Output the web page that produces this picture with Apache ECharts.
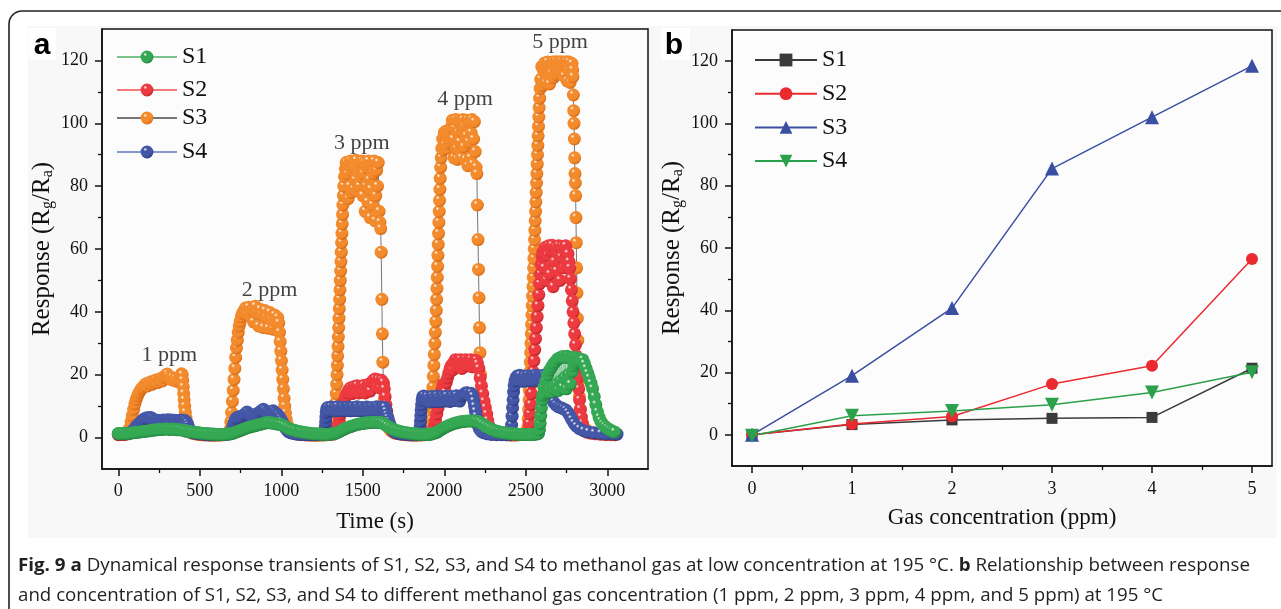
<!DOCTYPE html>
<html><head><meta charset="utf-8">
<script src="https://cdn.jsdelivr.net/npm/echarts@6/dist/echarts.min.js"></script>
<style>html,body{margin:0;padding:0;background:#fff}#c{width:1281px;height:609px}</style>
</head><body><div id="c"></div>
<script>
// ---------------- DATA ----------------
const seriesNames = ['S1','S2','S3','S4'];
const timeTicks = [0,500,1000,1500,2000,2500,3000];
const timeMinor = [250,750,1250,1750,2250,2750];
const respTicks = [0,20,40,60,80,100,120];
const respMinor = [10,30,50,70,90,110];
const concTicks = [0,1,2,3,4,5];
const concMinor = [0.5,1.5,2.5,3.5,4.5];

// panel a: [time (s), response]
const S1_dyn = [[0,1.3],[15,1.2],[30,1.3],[45,1.2],[60,1.3],[75,1.4],[90,1.5],[105,1.6],[120,1.7],[135,1.8],[150,1.9],[165,2.0],[180,2.1],[195,2.2],[210,2.3],[225,2.4],[240,2.5],[255,2.6],[270,2.6],[285,2.7],[300,2.7],[315,2.6],[330,2.7],[345,2.6],[360,2.5],[375,2.5],[390,2.4],[405,2.2],[420,2.0],[435,1.9],[450,1.8],[465,1.7],[480,1.6],[495,1.5],[510,1.4],[525,1.3],[540,1.3],[555,1.2],[570,1.1],[585,1.1],[600,1.0],[615,1.0],[630,1.0],[645,1.0],[660,1.1],[675,1.1],[690,1.2],
[705,1.4],[720,1.7],[735,2.0],[750,2.3],[765,2.6],[780,2.9],[795,3.2],[810,3.4],[825,3.6],[840,3.8],[855,4.0],[870,4.2],[885,4.4],[900,4.6],[915,4.8],[930,4.7],[945,4.6],[960,4.5],[975,4.3],[990,4.2],[1005,4.0],[1020,3.6],[1035,3.2],[1050,2.8],[1065,2.5],[1080,2.3],[1095,2.1],[1110,1.9],[1125,1.8],[1140,1.6],[1155,1.5],[1170,1.4],[1185,1.3],[1200,1.2],[1215,1.2],[1230,1.1],[1245,1.1],[1260,1.0],[1275,1.0],[1290,1.0],[1305,1.1],[1320,1.2],[1335,1.4],
[1350,1.7],[1365,2.1],[1380,2.5],[1395,2.9],[1410,3.2],[1425,3.5],[1440,3.8],[1455,4.0],[1470,4.2],[1485,4.4],[1500,4.5],[1515,4.6],[1530,4.7],[1545,4.8],[1560,4.8],[1575,4.9],[1590,4.8],[1605,4.8],[1620,4.6],[1635,4.2],[1650,3.7],[1665,3.2],[1680,2.8],[1695,2.5],[1710,2.2],[1725,2.0],[1740,1.8],[1755,1.6],[1770,1.5],[1785,1.4],[1800,1.3],[1815,1.2],[1830,1.1],[1845,1.1],[1860,1.0],[1875,1.0],[1890,1.0],[1905,1.0],[1920,1.1],[1935,1.3],
[1950,1.6],[1965,2.0],[1980,2.5],[1995,3.0],[2010,3.4],[2025,3.8],[2040,4.1],[2055,4.4],[2070,4.6],[2085,4.8],[2100,5.0],[2115,5.1],[2130,5.2],[2145,5.3],[2160,5.3],[2175,5.2],[2190,5.3],[2205,5.1],[2220,4.8],[2235,4.3],[2250,3.8],[2265,3.3],[2280,2.9],[2295,2.5],[2310,2.2],[2325,2.0],[2340,1.8],[2355,1.6],[2370,1.5],[2385,1.4],[2400,1.3],[2415,1.2],[2430,1.1],[2445,1.1],[2460,1.0],[2475,1.0],[2490,1.0],[2505,1.0],[2520,1.0],[2535,1.0],[2550,1.0],[2565,1.1],[2578,1.3],
[2584,2.5],[2588,4.5],[2592,7],[2596,9.5],[2600,12],[2605,13.5],[2611,16],[2617,14],[2623,18],[2629,14.5],[2635,20],[2641,15],[2647,21.5],[2653,14.5],[2659,22.5],[2665,16],[2671,23.5],[2677,15.5],[2683,24.2],[2689,17],[2695,25],[2701,15],[2707,25.3],[2713,18],[2719,25.6],[2725,16],[2731,25.8],[2737,19],[2743,25.5],[2749,15.5],[2755,25.9],[2761,20],[2767,25.6],[2773,17],[2779,25.4],[2785,21],[2791,25.2],[2797,23],[2803,25.5],[2809,24],[2815,25.3],[2821,24.6],[2827,25],[2833,24.5],[2840,24.8],
[2850,24.8],[2860,23.5],[2870,22],[2880,20.5],[2890,19],[2900,17.3],[2910,15.6],[2920,13],[2930,10.5],[2940,8.2],[2950,6.4],[2960,5.2],[2972,4.3],[2985,3.6],[3000,3],[3015,2.5],[3030,2.1],[3045,1.8]];

const S2_dyn = [[0,0.9],[20,1.0],[40,1.0],[60,1.2],[80,1.6],[100,2.0],[130,2.4],[160,2.7],[190,2.9],[220,3.1],[250,3.2],[280,3.4],[310,3.5],[340,3.4],[370,3.3],[400,3.2],[420,2.6],[435,2.0],[450,1.6],[475,1.3],[500,1.1],[530,1.0],[560,0.9],[590,0.9],[620,0.9],[650,1.0],[680,1.2],
[700,2.2],[715,3.2],[730,4],[750,4.6],[780,5],[810,5.3],[840,5.5],[870,5.6],[900,5.8],[930,5.7],[960,5.6],[990,5.4],[1010,4.6],[1025,3.6],[1040,2.6],[1055,2.0],[1070,1.6],[1090,1.3],[1110,1.1],
[1140,1.0],[1170,0.9],[1200,0.9],[1230,0.9],[1260,0.9],[1290,1.0],[1320,1.1],
[1335,1.8],[1345,3.5],[1355,5.5],[1365,7.5],[1375,9.5],[1385,11.5],[1395,13],[1405,14.3],[1415,15.2],[1425,15.8],[1435,14],[1445,16.2],[1455,14.5],[1465,16.5],[1475,14.2],[1485,16],[1495,14.6],[1505,16.6],[1515,14.2],[1525,16.2],[1535,17],[1545,14.8],[1555,17.6],[1565,18.2],[1575,18.6],[1585,16.2],[1595,18.4],[1605,15.8],[1615,18.2],[1625,17.5],[1632,15.5],[1637,13],[1642,10.5],[1647,8.4],[1652,6.5],[1658,5],[1665,3.8],[1673,2.8],[1683,2.1],[1695,1.7],[1710,1.4],
[1730,1.2],[1760,1.0],[1790,0.9],[1820,0.9],[1850,0.9],[1880,1.0],[1910,1.1],
[1930,1.8],[1938,3.5],[1946,5.5],[1954,7.5],[1962,9.5],[1970,11.5],[1978,13.5],[1986,15.5],[1994,17],[2000,16],[2006,14.5],[2012,17.5],[2020,19],[2028,20.5],[2036,22],[2044,23],[2052,21.5],[2060,24],[2068,24.8],[2076,22.5],[2084,24.6],[2092,23.2],[2100,24.8],[2108,22],[2116,24.2],[2124,23.5],[2132,24.8],[2140,22.8],[2148,24.5],[2156,23],[2164,24.8],[2172,22.5],[2180,24.2],[2188,23.8],[2196,24.5],[2204,23.5],
[2212,22],[2220,19],[2228,16.5],[2236,14],[2244,11.5],[2252,9.5],[2260,7.5],[2266,5.5],[2272,4],[2280,2.8],[2290,2],[2300,1.6],
[2320,1.3],[2350,1.1],[2380,1.0],[2410,0.9],[2440,0.9],[2470,1.0],[2500,1.1],
[2515,2],[2520,4.5],[2525,7.5],[2530,10.5],[2535,14],[2540,17.5],[2545,21],[2550,24.5],[2555,28],[2560,31.5],[2565,35],[2570,38.5],[2575,42],[2580,45.5],[2585,49],[2590,52],[2595,55],[2600,57.5],
[2605,59],[2612,54],[2619,60.5],[2626,50],[2633,58],[2640,61],[2647,52],[2654,59.5],[2661,61.2],[2668,48],[2675,56],[2682,60.5],[2689,53],[2696,59],[2703,61],[2710,50],[2717,57.5],[2724,60.8],[2731,54],[2738,59.5],[2745,61],[2752,55],[2759,58.5],[2765,56],
[2770,54],[2775,50.5],[2780,47],[2785,43.5],[2790,40],[2795,36.5],[2800,33],[2805,29.5],[2810,26],[2815,22.5],[2820,19],[2825,15.5],[2830,12],[2835,9],[2840,6.5],[2846,4.5],[2853,3],[2862,2.2],[2875,1.7],
[2900,1.4],[2930,1.2],[2960,1.1],[2990,1.0],[3020,1.0],[3045,0.9]];

const S3_dyn = [[0,1.0],[15,1.1],[30,1.0],[45,1.2],[60,1.5],
[70,3],[78,5],[86,7],[94,9],[102,10.8],[110,12.2],[118,13.3],[126,14.2],[134,14.9],[142,15.5],[150,16],
[160,16.6],[170,17.1],[180,16.4],[190,17.4],[200,17.8],[210,17],[220,17.9],[230,18.3],[240,17.5],[250,18.4],[260,18.8],[270,18],[280,19.2],[290,19.8],[300,20.2],[310,19.3],[320,18.6],[330,19.1],[340,18.2],[350,18.7],[360,17.9],[370,18.4],[380,19.2],[388,20.3],
[392,20],[395,18.2],[398,16.1],[401,14],[404,12],[407,10],[411,8],[415,6.2],[420,4.6],[426,3.3],[433,2.4],[442,1.8],
[455,1.4],[470,1.2],[490,1.0],[510,0.9],[530,0.8],[550,0.8],[570,0.7],[590,0.7],[610,0.8],[630,0.8],[650,0.9],[670,1.2],
[685,2.5],[690,5],[695,8],[700,11.5],[705,15],[710,18.5],[715,22],[720,25.5],[725,28.5],[730,31],[736,33.5],[742,35.5],[748,37],[755,38.5],[762,39.5],
[770,40.2],[780,41.2],[790,39.4],[800,41.5],[810,38.6],[820,40.6],[830,36.8],[840,41.8],[850,39.6],[860,35.5],[870,40.8],[880,39.2],[890,35],[900,40.4],[910,38.3],[920,34.8],[930,39.8],[940,37.5],[950,34.5],[960,39],[970,36.2],[978,38.2],
[985,36.5],[989,33.5],[993,30.5],[997,27.5],[1001,24.5],[1005,21.5],[1009,18.5],[1013,15.5],[1017,12.5],[1021,10],[1025,7.8],[1030,5.8],[1036,4.2],[1043,3],[1052,2.2],
[1065,1.6],[1080,1.3],[1100,1.1],[1120,1.0],[1140,0.9],[1160,0.8],[1180,0.8],[1200,0.7],[1220,0.7],[1240,0.8],[1260,0.8],[1280,0.9],[1300,1.0],[1315,1.3],
[1325,2.5],[1328,5],[1331,8],[1334,11],[1337,14],[1340,17],[1342,20],[1344,23],[1346,26],[1348,29],[1350,32],[1352,35],[1354,38],[1356,41],[1358,44],[1360,47],[1362,50],[1364,53],[1366,56],[1368,59],[1370,62],[1372,65],[1374,68],[1376,71],[1378,74],[1381,77],[1384,80],[1388,83],[1393,85.5],[1398,87.5],
[1405,84],[1410,76],[1415,86.5],[1420,80],[1425,88],[1430,78],[1435,85],[1440,87.5],[1445,79],[1450,86],[1455,82],[1460,88.2],[1465,78.5],[1470,84.5],[1475,87],[1480,80],[1485,86.5],[1490,83],[1495,88],[1500,77],[1505,84],[1510,87.5],[1515,72],[1520,80],[1525,86],[1530,75],[1535,88],[1540,82],[1545,70],[1550,79],[1555,86.5],[1560,74],[1565,84],[1570,88],[1575,69],[1580,77],[1585,85],[1590,80],[1595,87.5],[1600,72],[1605,68.5],
[1610,66.5],[1613,59],[1617,44],[1620,33],[1623,24],[1627,17],[1631,12],[1636,8.5],[1642,6],[1650,4.2],[1660,3],[1672,2.2],
[1685,1.7],[1700,1.4],[1720,1.2],[1740,1.0],[1760,0.9],[1780,0.8],[1800,0.8],[1820,0.7],[1840,0.8],[1860,0.8],[1880,0.9],[1900,1.1],[1912,1.5],
[1918,2.5],[1921,5.5],[1924,9],[1927,12.5],[1930,16],[1933,19.5],[1936,23],[1939,26.5],[1942,30],[1945,33.5],[1948,37],[1951,40.5],[1953,44],[1955,47.5],[1957,51],[1959,54.5],[1961,58],[1963,61.5],[1965,65],[1967,68.5],[1969,72],[1971,75.5],[1973,79],[1975,82.5],[1978,86],[1981,89],[1985,92],
[1990,95],[1995,91.5],[2000,97],[2005,93],[2010,97.5],[2015,92],[2020,96],[2025,97.5],[2030,93.5],[2035,97],[2040,94],[2045,99],[2050,101],[2055,95],[2060,89],[2065,98.5],[2070,101.2],[2075,92],[2080,88.5],[2085,97],[2090,101],[2095,94],[2100,100.5],[2105,89],[2110,97.5],[2115,101.2],[2120,92.5],[2125,99],[2130,88.5],[2135,96],[2140,101],[2145,86.5],[2150,94],[2155,100.5],[2160,89],[2165,97],[2170,101.2],[2175,87],[2180,95],[2185,100.5],[2190,91],[2195,86],
[2200,84],[2203,74],[2207,63],[2210,53.5],[2213,44.5],[2216,35],[2219,27],[2223,20],[2227,14.5],[2232,10],[2238,7],[2245,5],[2254,3.5],[2265,2.5],
[2280,1.9],[2300,1.5],[2320,1.3],[2340,1.1],[2360,1.0],[2380,0.9],[2400,0.8],[2420,0.8],[2440,0.8],[2460,0.9],[2480,1.0],[2495,1.3],[2505,1.8],
[2512,3],[2515,6],[2518,9],[2520,12],[2522,15],[2524,18],[2526,21],[2528,24],[2530,27],[2532,30],[2534,33],[2536,36],[2538,39],[2540,42],[2542,45],[2544,48],[2546,51],[2548,54],[2550,57],[2552,60],[2554,63],[2556,66],[2558,69],[2560,72],[2562,75],[2564,78],[2566,81],[2568,84],[2570,87],[2572,90],[2574,93],[2576,96],[2578,99],[2580,102],[2582,105],[2585,108],[2588,111],
[2592,114],[2598,118],[2604,112],[2610,116.5],[2616,119.2],[2622,113],[2628,117.5],[2634,119.5],[2640,115],[2646,112.5],[2652,118.8],[2658,116],[2664,119.5],[2670,114.5],[2676,118],[2682,119.6],[2688,115.5],[2694,117],[2700,119.5],[2706,116],[2712,118.5],[2718,119.6],[2724,117],[2730,119],[2736,115],[2742,118.5],[2748,119.6],[2754,113.5],[2760,117],[2766,119.5],[2772,113],[2778,116.5],[2784,119],
[2788,117],[2790,114.8],[2792,109],[2794,104],[2796,100],[2798,95],[2800,89],[2802,84],[2804,81],[2806,77],[2808,70],[2810,62],[2812,54],[2814,46],[2816,38],[2819,31],[2822,24],[2825,18],[2829,13],[2834,9],[2840,6.5],[2848,4.5],[2858,3.2],[2870,2.4],
[2885,1.9],[2905,1.6],[2930,1.3],[2960,1.1],[2990,1.0],[3020,0.9],[3050,0.9]];

const S4_dyn = [[0,1.2],[20,1.3],[40,1.3],[60,1.4],[80,1.8],[95,2.5],[105,3.2],[115,3.8],[125,4.3],[135,4.8],[145,5.3],[155,5.8],[165,6.1],[175,6.3],[185,6.2],[195,6.4],[205,6.2],[215,5.8],[225,5.5],[235,5.3],[245,5.5],[255,5.2],[265,5.4],[275,5.6],[285,5.3],[295,5.5],[305,5.7],[315,5.4],[325,5.6],[335,5.3],[345,5.5],[355,5.4],[365,5.2],[375,5.4],[385,5.6],[395,5.3],[405,5.5],[415,5.2],[422,4.6],[428,3.8],[434,3],[440,2.3],[448,1.8],[460,1.5],[480,1.3],[500,1.2],[520,1.1],[540,1.0],[560,0.9],[580,0.9],[600,0.9],[620,0.9],[640,1.0],[660,1.0],[680,1.2],[692,1.6],
[698,2.5],[704,3.6],[710,4.6],[716,5.4],[722,6],[730,6.4],[740,6.6],[750,6.4],[760,6.8],[770,7.2],[780,7.6],[790,8.1],[800,7.6],[810,7.2],[820,7],[830,7.3],[840,7.1],[850,7.4],[860,7.8],[870,8.2],[880,8.6],[890,9],[900,8.6],[910,8],[920,7.6],[930,7.8],[940,8.2],[950,8.5],[960,8],[970,7.6],[980,7.2],[988,6.6],[995,6],[1002,5.3],[1010,4.5],[1018,3.7],[1026,3],[1034,2.4],[1044,1.9],[1058,1.5],[1075,1.3],[1095,1.1],
[1120,1.0],[1150,0.9],[1180,0.9],[1210,0.9],[1240,1.0],[1262,1.2],
[1268,2],[1270,3.5],[1272,5],[1274,6.5],[1276,8],[1279,9.2],
[1285,9.6],[1295,8.6],[1305,9.7],[1315,8.8],[1325,9.5],[1335,8.5],[1345,9.8],[1355,9],[1365,8.5],[1375,9.6],[1385,9.1],[1395,8.6],[1405,9.7],[1415,9.2],[1425,8.5],[1435,9.6],[1445,9],[1455,8.6],[1465,9.8],[1475,9.2],[1485,8.5],[1495,9.6],[1505,9.1],[1515,8.6],[1525,9.7],[1535,9.3],[1545,8.5],[1555,9.6],[1565,9.1],[1575,8.7],[1585,9.8],[1595,9.3],[1605,8.6],[1615,9.7],[1625,9.4],[1635,9.6],
[1642,8.4],[1648,7.2],[1654,6.2],[1660,5.2],[1666,4.2],[1672,3.4],[1680,2.6],[1690,2],[1702,1.6],[1720,1.3],
[1745,1.1],[1770,1.0],[1800,0.9],[1830,0.9],[1845,1.0],
[1850,1.8],[1852,3.5],[1854,5.2],[1856,7],[1858,8.8],[1861,10.5],[1864,12],[1868,13],
[1875,13.2],[1885,11.8],[1895,13],[1905,12.2],[1915,11.3],[1925,13.1],[1935,12.4],[1945,11.5],[1955,13.2],[1965,12.5],[1975,11.4],[1985,13],[1995,12.6],[2005,11.6],[2015,13.2],[2025,12.3],[2035,11.5],[2045,13.1],[2055,12.6],[2065,11.8],[2075,13.3],[2085,12.5],[2095,11.6],[2105,13.2],[2115,13.5],[2125,14],[2135,14.3],[2145,14.2],[2155,13.5],[2165,14.1],[2175,13.2],
[2181,11.6],[2186,10],[2191,8.4],[2196,6.8],[2201,5.4],[2207,4],[2214,3],[2222,2.3],[2232,1.8],[2245,1.5],[2265,1.2],
[2290,1.0],[2320,0.9],[2350,0.9],[2380,0.9],[2400,1.0],
[2410,1.8],[2413,4],[2416,6.8],[2419,9.5],[2422,12],[2425,14.5],[2429,16.5],[2434,18],[2440,19],
[2448,19.6],[2456,18.2],[2464,19.8],[2472,18.6],[2480,17.9],[2488,19.5],[2496,18.8],[2504,18],[2512,19.7],[2520,19],[2528,18.1],[2536,19.6],[2544,19.2],[2552,18.2],[2560,19.8],[2568,19.1],[2576,18.3],[2584,19.7],[2592,19.4],[2600,18.5],[2608,19.8],[2616,19.2],
[2624,18],[2632,16.5],[2640,15],[2650,13.5],[2660,12.3],[2672,11.2],[2685,10.4],[2700,9.8],[2715,9.5],[2730,9.2],[2745,8.8],[2758,8],[2770,7],[2782,5.8],[2795,4.6],[2810,3.6],[2830,2.8],[2855,2.2],[2885,1.8],[2920,1.5],[2960,1.3],[3000,1.2],[3040,1.1],[3060,1.1]];

// panel a annotations: label text and its anchor [time, response]
const ppmLabels = ['1 ppm','2 ppm','3 ppm','4 ppm','5 ppm'];
const ppmAnchors = [[313,26.2],[928,46.9],[1494,93.8],[2127,107.6],[2711,125.8]];

// panel b: concentration vs response
const conc = [0,1,2,3,4,5];
const respS1 = [0,3.3,4.8,5.3,5.6,21.4];
const respS2 = [0,3.5,5.9,16.3,22.2,56.5];
const respS3 = [0,19,40.7,85.5,102,118.5];
const respS4 = [-0.3,6.1,7.7,9.7,13.6,20.1];

// ---------------- CHART ----------------
const SERIF = '"Liberation Serif", "Times New Roman", serif';
const INK = '#111';
function ball(c, dark){
  return {type:'radial', x:0.36, y:0.3, r:0.75, colorStops:[
    {offset:0, color:'#ffffff'},{offset:0.2, color:c},{offset:0.7, color:c},{offset:1, color:dark}]};
}
const dynStyle = [
  {c:'#35a853', d:'#1d7f3a', line:'#79c28c', z:5},
  {c:'#ec3a40', d:'#b81e26', line:'#f07a7e', z:3},
  {c:'#f38a2c', d:'#cf6414', line:'#777777', z:2},
  {c:'#4457a6', d:'#27367a', line:'#8796cc', z:4}
];
const dynData = [S1_dyn, S2_dyn, S3_dyn, S4_dyn];
const fitData = [respS1, respS2, respS3, respS4];
const fitStyle = [
  {c:'#3b3b3b', sym:'rect', size:11, rot:0},
  {c:'#ea2a2f', sym:'circle', size:12, rot:0},
  {c:'#3a4ea2', sym:'triangle', size:14, rot:0},
  {c:'#2ba14b', sym:'triangle', size:14, rot:180}
];

function nameRich(){
  return {fontFamily:SERIF, fontSize:25, color:INK,
    rich:{n:{fontFamily:SERIF, fontSize:25, lineHeight:28, verticalAlign:'middle', color:INK},
          s:{fontFamily:SERIF, fontSize:16, lineHeight:16, padding:[12,0,0,0], verticalAlign:'middle', color:INK}}};
}
const respName = '{n|Response (R}{s|g}{n|/R}{s|a}{n|)}';

function mainAxis(o){
  return Object.assign({type:'value', splitLine:{show:false},
    axisLine:{show:true, onZero:false, lineStyle:{color:INK, width:1.5}},
    axisTick:{show:true, length:7, customValues:o.ticks, lineStyle:{color:INK, width:1.5}},
    axisLabel:{show:true, customValues:o.ticks, margin:o.margin, fontFamily:SERIF, fontSize:18, color:INK,
      formatter:v=>String(v)},
    nameLocation:'middle'}, o.extra);
}
function minorAxis(o){
  return Object.assign({type:'value', splitLine:{show:false},
    axisLine:{show:false, onZero:false},
    axisTick:{show:true, length:4, customValues:o.ticks, lineStyle:{color:INK, width:1.3}},
    axisLabel:{show:false}}, o.extra);
}

const series = [];
dynData.forEach((d,i)=>{
  const st = dynStyle[i];
  series.push({name:seriesNames[i], type:'line', xAxisIndex:0, yAxisIndex:0, data:d,
    symbol:'circle', symbolSize:13, showAllSymbol:true, z:st.z,
    lineStyle:{color:st.line, width:1}, itemStyle:{color:ball(st.c, st.d)},
    emphasis:{disabled:true}, animation:false});
});
series.push({type:'scatter', xAxisIndex:0, yAxisIndex:0, silent:true, z:10,
  data: ppmAnchors.map((p,i)=>({value:p, name:ppmLabels[i]})),
  symbolSize:1, itemStyle:{color:'rgba(0,0,0,0)'},
  label:{show:true, position:'inside', formatter:'{b}', fontFamily:SERIF, fontSize:22, color:INK}});
fitData.forEach((vals,i)=>{
  const st = fitStyle[i];
  series.push({name:seriesNames[i]+' ', type:'line', xAxisIndex:2, yAxisIndex:2,
    data: conc.map((c,k)=>[c, vals[k]]), symbol:st.sym, symbolSize:st.size, symbolRotate:st.rot,
    showAllSymbol:true, z:3+i, lineStyle:{color:st.c, width:1.5}, itemStyle:{color:st.c},
    emphasis:{disabled:true}, animation:false});
});

const legendA = [57, 90, 118, 152].map((cy,i)=>({
  data:[seriesNames[i]], left:116, top:cy-12, padding:0, selectedMode:false,
  itemWidth:60, itemHeight:16, textStyle:{fontFamily:SERIF, fontSize:24, lineHeight:24, color:INK}
}));
const legendB = {data:seriesNames.map(n=>n+' '), orient:'vertical', left:754, top:48, padding:0, itemGap:9.7,
  selectedMode:false, itemWidth:62, itemHeight:16, formatter:n=>n.trim(),
  textStyle:{fontFamily:SERIF, fontSize:24, lineHeight:24, color:INK}};

// caption measurement (for fitting the condensed caption face)
const capFont = '18px "Open Sans", "Noto Sans", sans-serif';
const capBold = 'bold 18px "Open Sans", "Noto Sans", sans-serif';
const mctx = document.createElement('canvas').getContext('2d');
function tw(f,s){ mctx.font = f; return mctx.measureText(s).width; }
const cap1 = [['b','Fig. 9'],['n',' '],['b','a'],['n',' Dynamical response transients of S1, S2, S3, and S4 to methanol gas at low concentration at 195 °C. '],['b','b'],['n',' Relationship between response']];
const cap2 = [['n','and concentration of S1, S2, S3, and S4 to different methanol gas concentration (1 ppm, 2 ppm, 3 ppm, 4 ppm, and 5 ppm) at 195 °C']];
function capW(parts){ return parts.reduce((a,p)=>a+tw(p[0]==='b'?capBold:capFont,p[1]),0); }
function capRich(parts){ return parts.map(p=>'{'+p[0]+'|'+p[1]+'}').join(''); }
const capScale1 = 1232 / capW(cap1);
const capScale2 = 1145 / capW(cap2);

const chart = echarts.init(document.getElementById('c'), null, {renderer:'canvas'});
chart.setOption({
  animation:false,
  backgroundColor:'#ffffff',
  grid:[
    {left:102, top:29, width:546, height:440, show:true, borderColor:INK, borderWidth:1.5, backgroundColor:'#fcfcfc', outerBoundsMode:'none'},
    {left:732, top:30, width:540, height:436, show:true, borderColor:INK, borderWidth:1.5, backgroundColor:'#fcfcfc', outerBoundsMode:'none'}
  ],
  xAxis:[
    mainAxis({ticks:timeTicks, margin:13, extra:{gridIndex:0, position:'bottom', min:-100, max:3250,
      name:'Time (s)', nameGap:41, nameTextStyle:{fontFamily:SERIF, fontSize:23, color:INK}}}),
    minorAxis({ticks:timeMinor, extra:{gridIndex:0, position:'bottom', min:-100, max:3250}}),
    mainAxis({ticks:concTicks, margin:14, extra:{gridIndex:1, position:'bottom', min:-0.2, max:5.2,
      name:'Gas concentration (ppm)', nameGap:40, nameTextStyle:{fontFamily:SERIF, fontSize:23, color:INK}}}),
    minorAxis({ticks:concMinor, extra:{gridIndex:1, position:'bottom', min:-0.2, max:5.2}})
  ],
  yAxis:[
    mainAxis({ticks:respTicks, margin:14, extra:{gridIndex:0, position:'left', min:-10, max:130,
      name:respName, nameGap:46, nameTextStyle:nameRich()}}),
    minorAxis({ticks:respMinor, extra:{gridIndex:0, position:'left', min:-10, max:130}}),
    mainAxis({ticks:respTicks, margin:14, extra:{gridIndex:1, position:'left', min:-10, max:130,
      name:respName, nameGap:46, nameTextStyle:nameRich()}}),
    minorAxis({ticks:respMinor, extra:{gridIndex:1, position:'left', min:-10, max:130}})
  ],
  legend: legendA.concat([legendB]),
  series: series,
  graphic:{elements:[
    {type:'rect', z:-100, silent:true, shape:{x:28, y:26, width:1249, height:512}, style:{fill:'#f8f8f8'}},
    {type:'rect', z:-99, silent:true, shape:{x:29, y:28, width:27, height:32}, style:{fill:'#ffffff'}},
    {type:'rect', z:-99, silent:true, shape:{x:661, y:28, width:29, height:32}, style:{fill:'#ffffff'}},
    {type:'text', z:50, x:42, y:46, style:{text:'a', font:'bold 30px "Liberation Sans", Arial, sans-serif', fill:'#000', align:'center', verticalAlign:'middle'}},
    {type:'text', z:50, x:674, y:46, style:{text:'b', font:'bold 30px "Liberation Sans", Arial, sans-serif', fill:'#000', align:'center', verticalAlign:'middle'}},
    {type:'rect', z:100, silent:true, shape:{x:9, y:11, width:1320, height:700, r:13}, style:{fill:'none', stroke:'#222', lineWidth:1.6}},
    {type:'text', z:50, x:18, y:566, scaleX:capScale1, style:{text:capRich(cap1), font:capFont, fill:'#231f20', align:'left', verticalAlign:'middle',
      rich:{b:{font:capBold, fill:'#231f20'}, n:{font:capFont, fill:'#231f20'}}}},
    {type:'text', z:50, x:18, y:596, scaleX:capScale2, style:{text:capRich(cap2), font:capFont, fill:'#231f20', align:'left', verticalAlign:'middle',
      rich:{b:{font:capBold, fill:'#231f20'}, n:{font:capFont, fill:'#231f20'}}}}
  ]}
});
</script></body></html>
